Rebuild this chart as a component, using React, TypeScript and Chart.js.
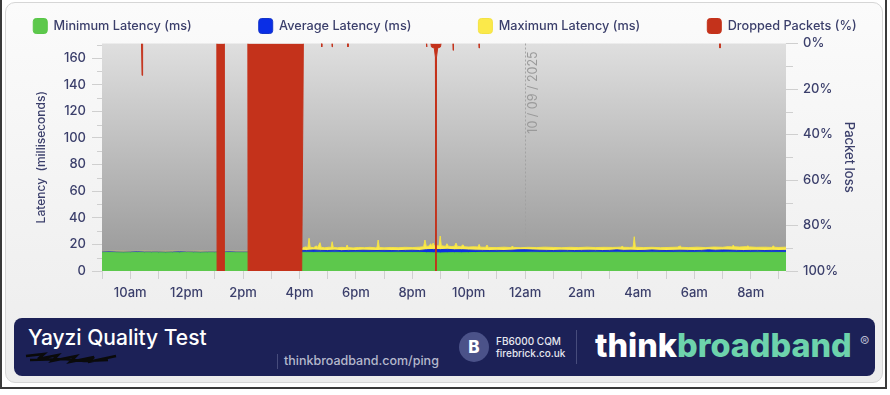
import React, { useEffect, useRef } from "react";
import { Chart, registerables } from "chart.js";

Chart.register(...registerables);

// ---------- data ----------
const START_HOUR = 9; // 9:00 on 09/09/2025
const STEP_HOURS = 0.25; // one sample every 15 minutes
const END_HOUR = 33.25; // 9:15 next day

const minLatency = [
  13.8, 13.9, 13.8, 13.7, 13.8, 13.9, 13.8, 13.8,
  13.8, 13.7, 13.8, 13.8, 13.9, 13.8, 13.7, 13.8,
  13.8, 13.8, 13.9, 13.8, 13.8, 13.8, 13.9, 13.8,
  13.8, 13.8, 13.9, 13.8, 14.0, 14.1, 14.0, 14.1,
  14.0, 14.1, 14.0, 14.0, 14.1, 14.0, 14.0, 14.1,
  14.0, 14.0, 14.1, 14.0, 14.0, 14.0, 13.8, 13.7,
  13.6, 13.7, 13.8, 13.7, 13.8, 13.9, 14.0, 14.0,
  14.0, 14.1, 14.0, 14.0, 14.0, 14.1, 14.0, 14.0,
  14.0, 14.0, 14.1, 14.0, 14.0, 14.0, 14.1, 14.0,
  14.0, 14.1, 14.0, 14.0, 14.0, 14.0, 14.1, 14.0,
  14.0, 14.0, 14.1, 14.0, 14.0, 14.1, 14.0, 14.0,
  14.0, 14.1, 14.0, 14.0, 14.0, 14.1, 14.0, 14.0,
  14.0, 14.0,
];

const avgLatency = [
  14.3, 14.4, 14.3, 14.2, 14.3, 14.4, 14.3, 14.3,
  14.3, 14.2, 14.3, 14.4, 14.3, 14.3, 14.2, 14.3,
  14.3, 14.3, 14.4, 14.3, 14.3, 14.3, 14.4, 14.3,
  14.3, 14.3, 14.4, 14.3, 15.6, 15.4, 15.8, 15.5,
  15.4, 15.6, 15.3, 15.5, 15.4, 15.6, 15.5, 15.4,
  15.5, 15.4, 15.3, 15.5, 15.6, 15.4, 16.0, 16.2,
  16.1, 16.3, 15.9, 16.0, 15.8, 15.6, 15.5, 15.4,
  15.5, 15.4, 15.6, 15.9, 16.0, 15.8, 15.6, 15.5,
  15.4, 15.6, 15.5, 15.4, 15.5, 15.6, 15.5, 15.4,
  15.5, 15.9, 15.5, 15.6, 15.4, 15.5, 15.8, 15.5,
  15.4, 15.5, 15.6, 15.5, 15.4, 15.5, 15.9, 15.6,
  15.8, 15.7, 15.5, 15.4, 15.5, 15.5, 15.4, 15.5,
  15.4, 15.5,
];

// [hour, ms]
const maxSamples: [number, number][] = [
  [9.0, 14.7], [9.5, 14.8], [10.0, 14.7], [10.5, 14.8], [11.0, 14.7], [11.5, 14.8],
  [12.0, 14.7], [12.5, 14.8], [13.0, 14.7], [13.5, 14.8], [14.0, 14.8], [14.5, 14.7],
  [15.0, 14.8], [15.5, 14.7], [16.0, 14.8],
  [16.12, 17.4], [16.22, 18.1], [16.3, 17.6], [16.34, 24.6], [16.38, 17.9], [16.5, 17.5],
  [16.6, 18.9], [16.64, 17.7], [16.73, 21.3], [16.77, 17.8], [16.9, 17.4], [17.05, 17.9],
  [17.12, 17.6], [17.16, 22.0], [17.2, 17.7], [17.35, 17.4], [17.5, 17.8], [17.65, 17.5],
  [17.69, 19.5], [17.73, 17.6], [17.9, 17.3], [18.1, 17.7], [18.3, 17.5], [18.5, 17.8],
  [18.7, 17.4], [18.75, 17.6], [18.79, 23.3], [18.83, 17.7], [19.0, 17.4], [19.25, 17.7],
  [19.5, 17.5], [19.75, 17.8], [20.0, 17.6], [20.25, 17.9], [20.4, 18.2], [20.45, 23.3],
  [20.5, 18.4], [20.6, 18.8], [20.65, 20.5], [20.7, 18.6], [20.74, 21.0], [20.78, 18.9],
  [20.9, 19.0], [20.95, 18.8], [20.99, 26.3], [21.03, 19.0], [21.12, 18.7], [21.18, 18.5],
  [21.23, 20.5], [21.28, 18.6], [21.4, 18.4], [21.5, 18.6], [21.55, 21.0], [21.6, 18.5],
  [21.72, 18.3], [21.8, 19.7], [21.85, 18.2], [22.0, 18.0], [22.2, 18.2], [22.33, 18.0],
  [22.37, 20.0], [22.41, 17.9], [22.6, 17.8], [22.65, 19.5], [22.7, 17.7], [23.0, 17.6],
  [23.25, 17.9], [23.5, 17.6], [23.55, 18.8], [23.6, 17.7], [23.85, 17.5], [24.1, 17.8],
  [24.4, 17.6], [24.7, 17.9], [25.0, 17.7], [25.3, 17.5], [25.6, 17.8], [25.9, 17.6],
  [26.2, 17.9], [26.5, 17.6], [26.8, 17.8], [27.1, 17.7], [27.4, 17.9], [27.44, 18.6],
  [27.5, 17.8], [27.7, 17.7], [27.83, 17.9], [27.87, 25.8], [27.91, 17.9], [28.2, 17.6],
  [28.5, 17.8], [28.8, 17.5], [29.1, 17.7], [29.4, 17.9], [29.5, 18.8], [29.55, 17.8],
  [29.8, 17.6], [30.1, 17.9], [30.4, 17.6], [30.7, 18.0], [31.0, 17.8], [31.2, 18.3],
  [31.34, 18.1], [31.38, 19.5], [31.42, 18.2], [31.6, 18.0], [31.85, 18.3], [31.9, 18.9],
  [31.95, 18.1], [32.2, 17.8], [32.5, 17.9], [32.75, 17.7], [32.8, 19.0], [32.85, 17.8],
  [33.0, 17.7], [33.25, 17.9],
];

// [hour, % dropped]
const lossSamples: [number, number][] = [
  [9.0, 0], [10.4, 0], [10.42, 14], [10.44, 0],
  [13.07, 0], [13.08, 100], [13.33, 100], [13.34, 0],
  [14.17, 0], [14.18, 100], [16.08, 100], [16.14, 0],
  [16.78, 0], [16.79, 1.5], [16.8, 0],
  [17.15, 0], [17.16, 1.5], [17.17, 0],
  [17.71, 0], [17.72, 1.5], [17.73, 0],
  [20.5, 0], [20.51, 1.5], [20.52, 0],
  [20.66, 0], [20.68, 1.5], [20.78, 2], [20.82, 6], [20.84, 100], [20.86, 6], [20.9, 2], [21.0, 1.5], [21.02, 0],
  [21.44, 0], [21.45, 3], [21.46, 0],
  [22.36, 0], [22.37, 2], [22.38, 0],
  [30.9, 0], [30.91, 2], [30.92, 0],
  [33.25, 0],
];

const latencyTicks = [0, 20, 40, 60, 80, 100, 120, 140, 160];
const latencyMinorTicks = [10, 30, 50, 70, 90, 110, 130, 150, 170];
const lossTicks = [0, 20, 40, 60, 80, 100];
const lossMinorTicks = [10, 30, 50, 70, 90];
const timeLabels: Record<number, string> = {
  10: "10am", 12: "12pm", 14: "2pm", 16: "4pm", 18: "6pm", 20: "8pm",
  22: "10pm", 24: "12am", 26: "2am", 28: "4am", 30: "6am", 32: "8am",
};
const dateMarkerHour = 24;
const dateMarkerLabel = "10 / 09 / 2025";

const seriesNames = [
  "Minimum Latency (ms)",
  "Average Latency (ms)",
  "Maximum Latency (ms)",
  "Dropped Packets (%)",
];

// ---------- styles ----------
const TEXT = "#3b3f6b";
const TICK_LINE = "#cfcfcf";
const FONT = "Inter";
// the canvas is wider than the page so the legend can spread out
const CANVAS_SHIFT = 50;
const CANVAS_W = 990;
const CANVAS_H = 312;

const plotBackground = {
  id: "plotBackground",
  beforeDatasetsDraw(chart: any) {
    const { ctx, chartArea } = chart;
    const g = ctx.createLinearGradient(0, chartArea.top, 0, chartArea.bottom);
    g.addColorStop(0, "#dfdfdf");
    g.addColorStop(1, "#979797");
    ctx.save();
    ctx.fillStyle = g;
    ctx.fillRect(chartArea.left, chartArea.top, chartArea.right - chartArea.left, chartArea.bottom - chartArea.top);
    // date marker
    const x = Math.round(chart.scales.x.getPixelForValue(dateMarkerHour)) + 0.5;
    ctx.strokeStyle = "rgba(160,160,160,0.9)";
    ctx.lineWidth = 1;
    ctx.setLineDash([2, 2]);
    ctx.beginPath();
    ctx.moveTo(x, chartArea.top);
    ctx.lineTo(x, chartArea.bottom);
    ctx.stroke();
    ctx.setLineDash([]);
    ctx.translate(x + 8, chartArea.top + 49);
    ctx.rotate(-Math.PI / 2);
    ctx.font = `400 12.5px ${FONT}`;
    ctx.fillStyle = "#9a9a9a";
    ctx.textAlign = "center";
    ctx.textBaseline = "middle";
    ctx.fillText(dateMarkerLabel, 0, 0);
    ctx.restore();
  },
};

const minorTicks = {
  id: "minorTicks",
  afterDraw(chart: any) {
    const { ctx, chartArea, scales } = chart;
    ctx.save();
    ctx.strokeStyle = TICK_LINE;
    ctx.lineWidth = 1;
    ctx.beginPath();
    for (const v of latencyMinorTicks) {
      const y = Math.round(scales.y.getPixelForValue(v)) + 0.5;
      ctx.moveTo(chartArea.left - 5, y);
      ctx.lineTo(chartArea.left, y);
    }
    for (const v of lossMinorTicks) {
      const y = Math.round(scales.y1.getPixelForValue(v)) + 0.5;
      ctx.moveTo(chartArea.right, y);
      ctx.lineTo(chartArea.right + 7, y);
    }
    ctx.stroke();
    ctx.restore();
  },
};

function ChartView() {
  const ref = useRef<HTMLCanvasElement | null>(null);
  useEffect(() => {
    if (!ref.current) return;
    const timeAt = (i: number) => START_HOUR + i * STEP_HOURS;
    const red = "#c4321b";
    const labelFont = { family: FONT, size: 13, weight: 500 as any };
    const chart = new Chart(ref.current, {
      type: "line",
      data: {
        datasets: [
          {
            label: seriesNames[0],
            data: minLatency.map((v, i) => ({ x: timeAt(i), y: v })),
            borderColor: "#58c647",
            backgroundColor: "#5dc84c",
            fill: "origin",
            borderWidth: 1,
            pointRadius: 0,
            order: 1,
            yAxisID: "y",
          },
          {
            label: seriesNames[1],
            data: avgLatency.map((v, i) => ({ x: timeAt(i), y: v })),
            borderColor: "#1535c8",
            backgroundColor: "#0a2ee6",
            fill: "origin",
            borderWidth: 1,
            pointRadius: 0,
            order: 2,
            yAxisID: "y",
          },
          {
            label: seriesNames[2],
            data: maxSamples.map(([x, y]) => ({ x, y })),
            borderColor: "#f3e244",
            backgroundColor: "#fbe94a",
            fill: "origin",
            borderWidth: 1,
            pointRadius: 0,
            order: 3,
            yAxisID: "y",
          },
          {
            label: seriesNames[3],
            data: lossSamples.map(([x, y]) => ({ x, y })),
            borderColor: red,
            backgroundColor: red,
            fill: "origin",
            borderWidth: 1,
            pointRadius: 0,
            order: 0,
            yAxisID: "y1",
            segment: {
              borderColor: (c: any) =>
                c.p0.parsed.y === 0 && c.p1.parsed.y === 0 ? "rgba(0,0,0,0)" : red,
            },
          } as any,
        ],
      },
      options: {
        animation: false,
        responsive: false,
        events: [],
        layout: { padding: { top: -48.5, left: 0, right: 0, bottom: 0 } },
        plugins: {
          tooltip: { enabled: false },
          legend: {
            position: "top",
            align: "center",
            labels: {
              sort: (a: any, b: any) => a.datasetIndex - b.datasetIndex,
              boxWidth: 14,
              boxHeight: 15,
              useBorderRadius: true,
              borderRadius: 3,
              padding: 67,
              color: TEXT,
              font: { family: FONT, size: 12.7, weight: 500 as any },
            },
          },
        },
        scales: {
          x: {
            type: "linear",
            min: START_HOUR,
            max: END_HOUR,
            afterFit: (s: any) => { s.height = CANVAS_H - 271; },
            border: { display: false },
            grid: { drawOnChartArea: false, drawTicks: true, tickLength: 8, tickColor: TICK_LINE },
            ticks: {
              stepSize: 1,
              autoSkip: false,
              maxRotation: 0,
              includeBounds: false,
              padding: 6,
              color: TEXT,
              font: labelFont,
              callback: (v: any) => timeLabels[Number(v)] ?? "",
            },
          },
          y: {
            type: "linear",
            position: "left",
            min: 0,
            max: 171,
            afterFit: (s: any) => { s.width = 102 + CANVAS_SHIFT; },
            afterBuildTicks: (s: any) => { s.ticks = latencyTicks.map((v) => ({ value: v })); },
            border: { display: false },
            grid: { drawOnChartArea: false, drawTicks: true, tickLength: 10, tickColor: TICK_LINE },
            ticks: { autoSkip: false, padding: 6, color: TEXT, font: labelFont },
            title: {
              display: true,
              text: "Latency  (milliseconds)",
              color: TEXT,
              padding: { top: 34.5 + CANVAS_SHIFT, bottom: 0 },
              font: { family: FONT, size: 12, weight: 500 as any },
            },
          },
          y1: {
            type: "linear",
            position: "right",
            min: 0,
            max: 100,
            reverse: true,
            afterFit: (s: any) => { s.width = CANVAS_W - CANVAS_SHIFT - 786; },
            afterBuildTicks: (s: any) => { s.ticks = lossTicks.map((v) => ({ value: v })); },
            border: { display: false },
            grid: { drawOnChartArea: false, drawTicks: true, tickLength: 12, tickColor: TICK_LINE },
            ticks: {
              autoSkip: false,
              padding: 5,
              color: TEXT,
              font: labelFont,
              callback: (v: any) => `${v}%`,
            },
            title: {
              display: true,
              text: "Packet loss",
              color: TEXT,
              padding: { top: 33 + (CANVAS_W - CANVAS_SHIFT - 890), bottom: 0 },
              font: labelFont,
            },
          },
        },
      },
      plugins: [plotBackground, minorTicks],
    } as any);
    return () => chart.destroy();
  }, []);
  return (
    <canvas
      ref={ref}
      width={CANVAS_W}
      height={CANVAS_H}
      style={{ position: "absolute", left: -CANVAS_SHIFT, top: 0, width: CANVAS_W, height: CANVAS_H }}
    />
  );
}

export default function App() {
  return (
    <div
      style={{
        position: "fixed",
        left: 0,
        top: 0,
        width: 890,
        height: 395,
        background: "#ffffff",
        overflow: "hidden",
        fontFamily: FONT,
      }}
    >
      <div
        style={{
          position: "absolute",
          left: 0,
          top: -2,
          width: 887,
          height: 391,
          boxSizing: "border-box",
          borderLeft: "2px solid #3a3a3a",
          borderRight: "2px solid #3a3a3a",
          borderBottom: "2px solid #3a3a3a",
        }}
      />
      <div
        style={{
          position: "absolute",
          left: 5,
          top: 2,
          width: 878,
          height: 381,
          boxSizing: "border-box",
          border: "1px solid #d6d6d6",
          borderRadius: 10,
          background: "linear-gradient(#fbfbfb, #ececec)",
        }}
      />
      <ChartView />
      {/* footer banner */}
      <div
        style={{
          position: "absolute",
          left: 14,
          top: 318,
          width: 861,
          height: 58,
          borderRadius: 8,
          background: "#1c2157",
        }}
      >
        <div
          style={{
            position: "absolute",
            left: 14,
            top: 7,
            color: "#ffffff",
            fontSize: 21,
            fontWeight: 500,
            whiteSpace: "nowrap",
            lineHeight: "26px",
          }}
        >
          Yayzi Quality Test
        </div>
        <svg
          width={96}
          height={16}
          style={{ position: "absolute", left: 10, top: 32 }}
        >
          <path
            d="M2 6 L20 4 L14 9 L34 5 L28 11 L52 6 L46 12 L70 7 L64 12 L92 6 M6 10 L40 9 L60 11 L84 10"
            stroke="#0a0a0a"
            strokeWidth={2.5}
            fill="none"
          />
        </svg>
        <div
          style={{
            position: "absolute",
            left: 263,
            top: 36,
            width: 1,
            height: 15,
            background: "#474c7c",
          }}
        />
        <div
          style={{
            position: "absolute",
            left: 270,
            top: 35,
            color: "#b5b8cc",
            fontSize: 12.5,
            fontWeight: 500,
            lineHeight: "16px",
            whiteSpace: "nowrap",
          }}
        >
          thinkbroadband.com/ping
        </div>
        <div
          style={{
            position: "absolute",
            left: 445,
            top: 14,
            width: 30,
            height: 30,
            borderRadius: 15,
            background: "#4b5289",
            color: "#ffffff",
            fontSize: 17,
            fontWeight: 800,
            lineHeight: "30px",
            textAlign: "center",
          }}
        >
          B
        </div>
        <div
          style={{
            position: "absolute",
            left: 482,
            top: 17,
            color: "#e6e7f0",
            fontSize: 10,
            fontWeight: 500,
            lineHeight: "12px",
            whiteSpace: "nowrap",
          }}
        >
          FB6000 CQM
          <br />
          firebrick.co.uk
        </div>
        <div
          style={{
            position: "absolute",
            left: 562,
            top: 12,
            width: 1,
            height: 34,
            background: "#474c7c",
          }}
        />
        <div
          style={{
            position: "absolute",
            left: 581,
            top: 9,
            fontSize: 32.4,
            fontWeight: 800,
            lineHeight: "38px",
            whiteSpace: "nowrap",
            letterSpacing: 0,
          }}
        >
          <span style={{ color: "#ffffff" }}>think</span>
          <span style={{ color: "#6dd3ac" }}>broadband</span>
        </div>
        <div
          style={{
            position: "absolute",
            left: 846,
            top: 16,
            color: "#b8bbcf",
            fontSize: 14,
            lineHeight: "16px",
          }}
        >
          ®
        </div>
      </div>
    </div>
  );
}
